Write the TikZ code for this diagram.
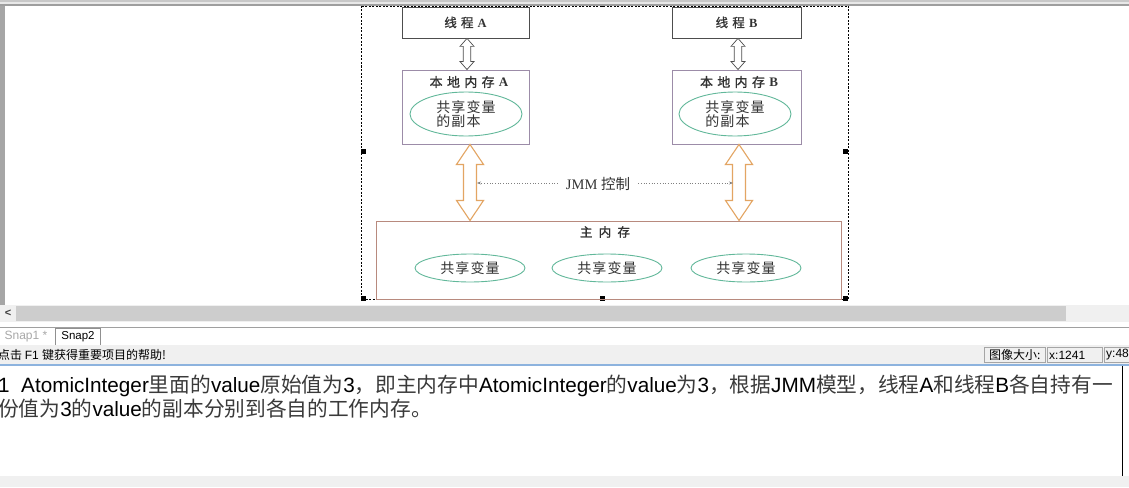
\documentclass[tikz,border=0pt]{standalone}
\usepackage{fontspec}
\setmainfont{Liberation Sans}
\newfontfamily\cjk{Noto Sans CJK SC}
\newfontfamily\cjkb{Noto Sans CJK SC}[FakeBold=1.2]
\newfontfamily\cjkls{Noto Sans CJK SC}[LetterSpace=8]
\newfontfamily\tms{Liberation Serif}
\usetikzlibrary{calc,arrows.meta,shapes.geometric}
\definecolor{thrbd}{HTML}{4D4D4D}
\definecolor{locbd}{HTML}{9C8CA8}
\definecolor{ellg}{HTML}{62B89A}
\definecolor{orng}{HTML}{E3A563}
\definecolor{mainbd}{HTML}{B88A7E}
\definecolor{uigray}{HTML}{F0F0F0}
\definecolor{sbar}{HTML}{CDCDCD}
\definecolor{edgegray}{HTML}{A5A5A5}
\definecolor{bluel}{HTML}{8DB3DE}
\definecolor{zhgray}{HTML}{3A3A3A}
\definecolor{topa}{HTML}{C8C8C8}
\definecolor{topb}{HTML}{E8E8E8}
\definecolor{topc}{HTML}{9E9E9E}
\definecolor{leftbar}{HTML}{A6A6A6}
\definecolor{sepline}{HTML}{A0A0A0}
\definecolor{tabline}{HTML}{909090}
\definecolor{snapone}{HTML}{A8A8A8}
\definecolor{ttlgray}{HTML}{333333}
\newcommand\zh[1]{{\cjk\color{zhgray}#1}}
\newcommand\hollowdarrow[6]{%
  \draw[#1] let \p1=#2, \p2=#3 in
  (\x1,\y1) -- (\x1+#4,\y1-#6) -- (\x1+#5,\y1-#6) -- (\x1+#5,\y2+#6)
  -- (\x1+#4,\y2+#6) -- (\x1,\y2) -- (\x1-#4,\y2+#6) -- (\x1-#5,\y2+#6)
  -- (\x1-#5,\y1-#6) -- (\x1-#4,\y1-#6) -- cycle;}
\tikzset{
  thr/.style={draw=thrbd, line width=0.8pt, minimum width=127pt, minimum height=31pt, inner sep=0pt,
    text=ttlgray, font=\fontsize{12.5}{13}\selectfont},
  loc/.style={draw=locbd, line width=0.9pt, minimum width=127pt, minimum height=74pt, inner sep=0pt},
  ell/.style={draw=ellg, ellipse, line width=0.9pt, inner sep=0pt, text=ttlgray},
  ttl/.style={inner sep=0pt, text=ttlgray, font=\fontsize{13}{14}\selectfont},
  handle/.style={fill=black, minimum size=5pt, inner sep=0pt},
  thinarr/.style={draw=thrbd, fill=white, line width=0.7pt},
  bigarr/.style={draw=orng, fill=white, line width=1.1pt},
  jmmline/.style={draw=gray, dotted, line width=0.7pt, -{Stealth[length=4pt,width=3pt]}},
  uitext/.style={inner sep=0pt, font=\fontsize{12}{13}\selectfont},
  sbox/.style={draw=edgegray, line width=0.6pt}
}
\begin{document}
\begin{tikzpicture}[x=1pt,y=-1pt]
\useasboundingbox (0,0) rectangle (1129,487);
\fill[white] (0,0) rectangle (1129,487);
% ---------- diagram ----------
\draw[line width=0.6pt, dash pattern=on 2pt off 1.5pt] (361,6) rectangle (848,299);
\node[handle] (h1) at (363,151) {};
\node[handle] (h2) at (845,151) {};
\node[handle] (h3) at (363,298) {};
\node[handle] (h4) at (602,298) {};
\node[handle] (h5) at (845,298) {};
\node[handle] (h6) at (602,5) {};
\node[thr] (thA) at (465.5,22.5) {\cjkb 线\,\,程\,\,\tms\bfseries A};
\node[thr,minimum width=129pt] (thB) at (736.5,22.5) {\cjkb 线\,\,程\,\,\tms\bfseries B};
\node[loc] (locA) at (465.5,107) {};
\node[loc,minimum width=129pt] (locB) at (736.5,107) {};
\node[ttl] (tA) at (469,82) {\cjkb 本\,\,地\,\,内\,\,存\,\,\tms\bfseries A};
\node[ttl] (tB) at (739,82) {\cjkb 本\,\,地\,\,内\,\,存\,\,\tms\bfseries B};
\node[ell, minimum width=112pt, minimum height=44pt, align=left, font=\cjkls\fontsize{14}{14}\selectfont] (eA) at (466,114) {共享变量\\的副本};
\node[ell, minimum width=112pt, minimum height=44pt, align=left, font=\cjkls\fontsize{14}{14}\selectfont] (eB) at (735,114) {共享变量\\的副本};
\node[draw=mainbd, line width=1pt, minimum width=465pt, minimum height=78pt, inner sep=0pt] (main) at (608.5,260) {};
\node[ttl, font=\fontsize{12.5}{13}\selectfont] (mt) at (605,232) {\cjkb 主\,\,\,内\,\,\,存};
\node[ell, minimum width=110pt, minimum height=28pt, font=\cjkls\fontsize{14}{14}\selectfont] (m1) at (470,268) {共享变量};
\node[ell, minimum width=110pt, minimum height=28pt, font=\cjkls\fontsize{14}{14}\selectfont] (m2) at (607,268) {共享变量};
\node[ell, minimum width=110pt, minimum height=28pt, font=\cjkls\fontsize{14}{14}\selectfont] (m3) at (746,268) {共享变量};
% arrows
\hollowdarrow{thinarr}{($(thA.south)+(1.5,0)$)}{($(locA.north)+(1.5,0)$)}{7pt}{3.8pt}{8pt}
\hollowdarrow{thinarr}{($(thB.south)+(1.5,0)$)}{($(locB.north)+(1.5,0)$)}{7pt}{3.8pt}{8pt}
\hollowdarrow{bigarr}{($(locA.south)+(4.5,0)$)}{($(main.north-|locA.south)+(4.5,0)$)}{13.5pt}{6.5pt}{20pt}
\hollowdarrow{bigarr}{($(locB.south)+(2.5,0)$)}{($(main.north-|locB.south)+(2.5,0)$)}{13.5pt}{6.5pt}{20pt}
\node[inner xsep=8pt, inner ysep=2pt, text=ttlgray, font=\fontsize{14.5}{15}\selectfont] (jmm) at (598,184) {\tms JMM \cjk 控制};
\coordinate (jl) at (477,183);
\coordinate (jr) at (733,183);
\draw[jmmline] (jmm.west |- jl) -- (jl);
\draw[jmmline] (jmm.east |- jr) -- (jr);
% ---------- window chrome ----------
\fill[topa] (0,0) rectangle (1129,2);
\fill[topb] (0,2) rectangle (1129,4);
\fill[topc] (0,4) rectangle (1129,6);
\fill[leftbar] (0,6) rectangle (5,305);
\fill[uigray] (0,305) rectangle (1129,322);
\fill[sbar] (16,306) rectangle (1066,321);
\node[uitext, font=\bfseries\fontsize{11}{12}\selectfont, text=black!75] (lt) at (8,313) {<};
\fill[white] (0,322) rectangle (1129,345);
\draw[sepline, line width=1pt] (0,327) -- (1129,327);
\node[uitext, text=snapone] (s1) at (26,336.5) {Snap1 *};
\node[uitext, font=\fontsize{11.5}{12}\selectfont] (s2) at (78,336.5) {Snap2};
\draw[tabline, line width=0.7pt] (55,345) -- (55,328) -- (100,328) -- (100,345);
\fill[uigray] (0,345) rectangle (1129,364);
\node[uitext, anchor=west] (st) at (-2,355) {\cjk 点击 \rmfamily F1 \cjk 键获得重要项目的帮助!};
\draw[sbox] (984,347) rectangle (1045,362);
\draw[sbox] (1047,347) rectangle (1102,362);
\draw[sbox] (1104,347) rectangle (1135,362);
\node[uitext, anchor=west] (b1) at (989,355) {\cjk 图像大小:};
\node[uitext, anchor=west] (b2) at (1049,355) {x:1241};
\node[uitext, anchor=west] (b3) at (1106,355) {y:48};
\fill[bluel] (0,363.5) rectangle (1129,365.5);
\fill[uigray] (0,476) rectangle (1129,487);
\draw[black, line width=0.9pt] (1122.5,366) -- (1122.5,476);
\node[inner sep=0pt, anchor=base west, font=\fontsize{20.7}{24}\selectfont] (l1) at (-2,392)
 {1\ \ AtomicInteger\zh{里面的}value\zh{原始值为}3\zh{，即主内存中}AtomicInteger\zh{的}value\zh{为}3\zh{，根据}JMM\zh{模型，线程}A\zh{和线程}B\zh{各自持有一}};
\node[inner sep=0pt, anchor=base west, font=\fontsize{20.7}{24}\selectfont] (l2) at (-2,416)
 {\zh{份值为}3\zh{的}value\zh{的副本分别到各自的工作内存。}};
\end{tikzpicture}
\end{document}
